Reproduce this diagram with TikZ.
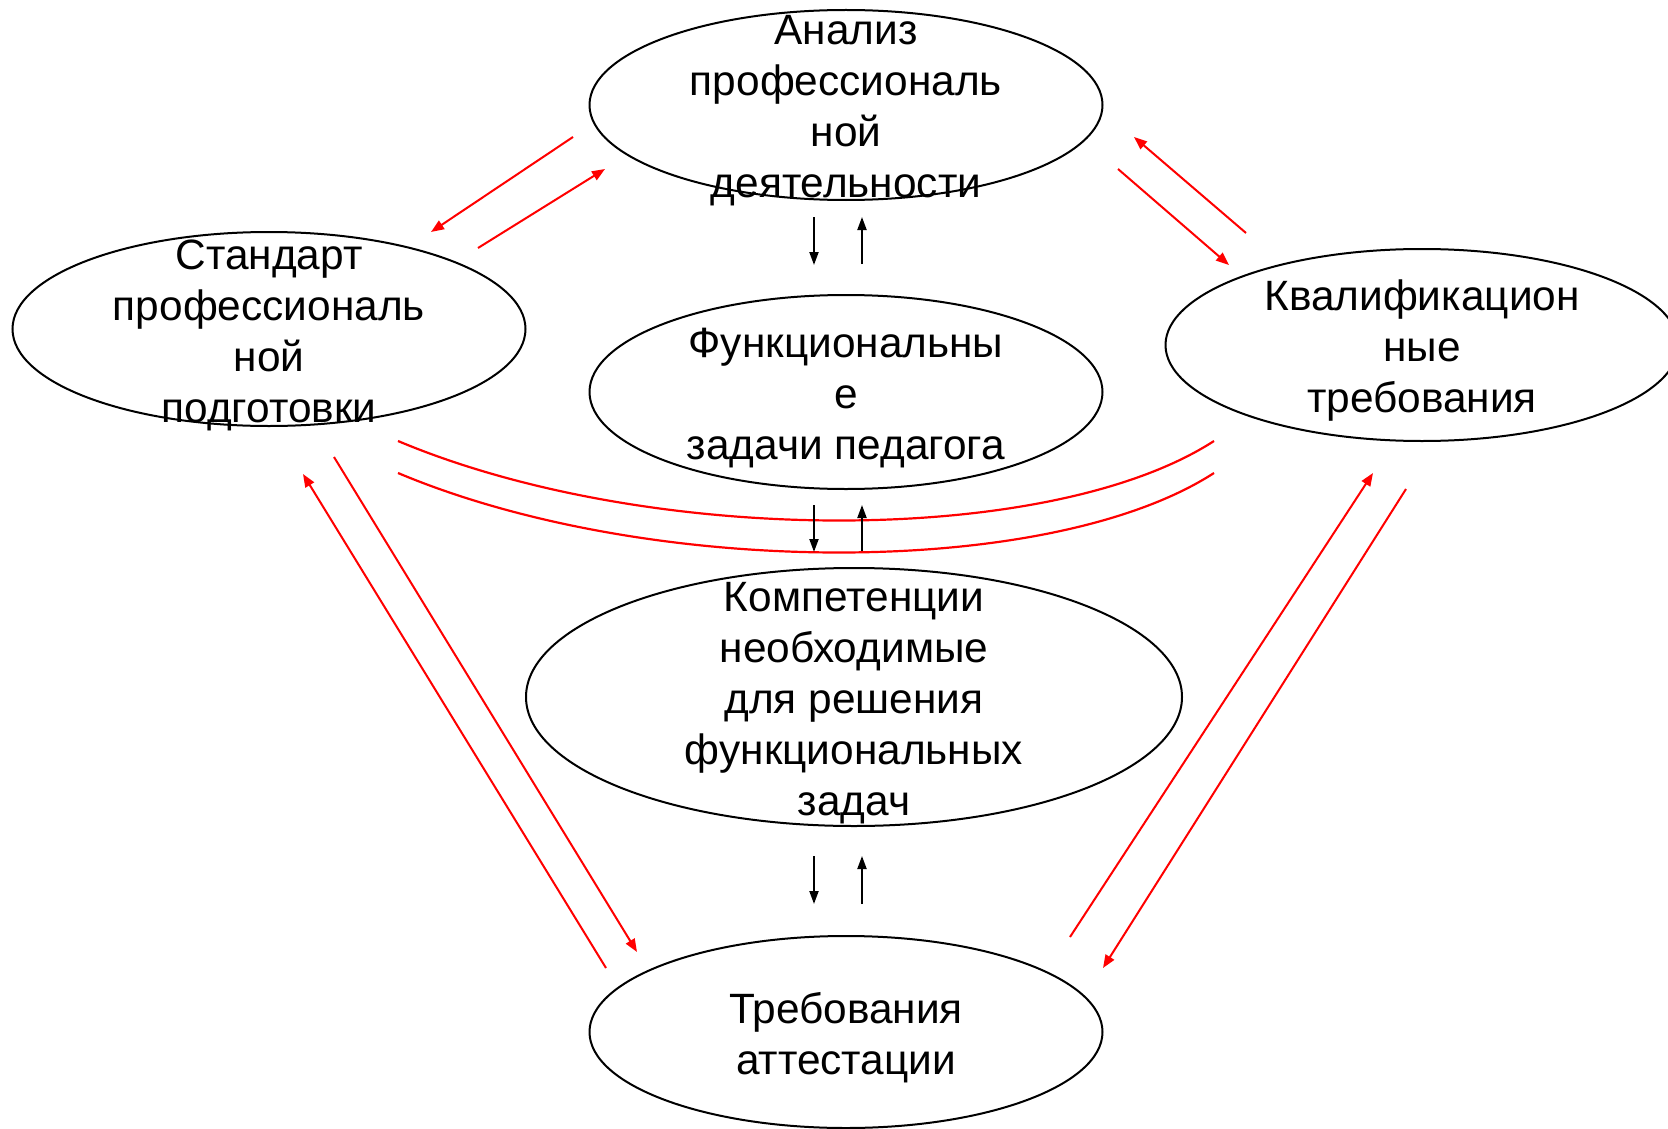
\documentclass[tikz,border=0pt]{standalone}
\usepackage{fontspec}
\setmainfont{Liberation Sans}
\usetikzlibrary{arrows.meta,shapes.geometric}
\begin{document}
\begin{tikzpicture}[x=1pt,y=-1pt,
  oval/.style={draw=black, line width=2pt, ellipse, inner sep=0pt},
  lbl/.style={align=center, font=\fontsize{42.4}{51}\selectfont, inner sep=0pt, yshift=-6pt},
  redarr/.style={draw=red, line width=2pt, -{Triangle[length=13pt,width=10pt]}},
  redline/.style={draw=red, line width=2.2pt},
  blkarr/.style={draw=black, line width=2pt, -{Triangle[length=13pt,width=9pt]}}]
\useasboundingbox (0,0) rectangle (1668,1129);
% ellipses
\node[oval, minimum width=513pt, minimum height=190pt] (an) at (846,105) {};
\node[oval, minimum width=513pt, minimum height=194pt] (st) at (269,329) {};
\node[oval, minimum width=513pt, minimum height=194pt] (fu) at (846,392) {};
\node[oval, minimum width=513pt, minimum height=192pt] (kv) at (1422,345) {};
\node[oval, minimum width=656pt, minimum height=258pt] (ko) at (854,697) {};
\node[oval, minimum width=513pt, minimum height=192pt] (tr) at (846,1032) {};
% labels
\node[lbl] (anT) at (an.center) {Анализ\\профессиональ\\ной\\деятельности};
\node[lbl] (stT) at (st.center) {Стандарт\\профессиональ\\ной\\подготовки};
\node[lbl] (fuT) at (fu.center) {Функциональны\\е\\задачи педагога};
\node[lbl] (kvT) at (kv.center) {Квалификацион\\ные\\требования};
\node[lbl] (koT) at (ko.center) {Компетенции\\необходимые\\для решения\\функциональных\\задач};
\node[lbl] (trT) at (tr.center) {Требования\\аттестации};
% coordinates for red arrows
\coordinate (a1) at (573,137); \coordinate (a2) at (431,232);
\coordinate (b1) at (478,248); \coordinate (b2) at (605,169);
\coordinate (c1) at (1246,233); \coordinate (c2) at (1134,137);
\coordinate (d1) at (1118,169); \coordinate (d2) at (1229,265);
\coordinate (e1) at (606,968); \coordinate (e2) at (303,474);
\coordinate (f1) at (334,457); \coordinate (f2) at (637,952);
\coordinate (g1) at (1070,937); \coordinate (g2) at (1373,473);
\coordinate (h1) at (1406,489); \coordinate (h2) at (1103,968);
\draw[redarr] (a1) -- (a2);
\draw[redarr] (b1) -- (b2);
\draw[redarr] (c1) -- (c2);
\draw[redarr] (d1) -- (d2);
\draw[redarr] (e1) -- (e2);
\draw[redarr] (f1) -- (f2);
\draw[redarr] (g1) -- (g2);
\draw[redarr] (h1) -- (h2);
% red curves
\coordinate (u1) at (398,441); \coordinate (u2) at (1214,441);
\coordinate (l1) at (398,473); \coordinate (l2) at (1214,473);
\draw[redline] (u1) .. controls (650,547) and (1050,547) .. (u2);
\draw[redline] (l1) .. controls (650,579) and (1050,579) .. (l2);
% black arrows
\coordinate (p1) at (814,217); \coordinate (p2) at (814,265);
\coordinate (q1) at (862,264); \coordinate (q2) at (862,217);
\coordinate (r1) at (814,505); \coordinate (r2) at (814,552);
\coordinate (s1) at (862,551); \coordinate (s2) at (862,505);
\coordinate (t1) at (814,856); \coordinate (t2) at (814,904);
\coordinate (v1) at (862,904); \coordinate (v2) at (862,856);
\draw[blkarr] (p1) -- (p2);
\draw[blkarr] (q1) -- (q2);
\draw[blkarr] (r1) -- (r2);
\draw[blkarr] (s1) -- (s2);
\draw[blkarr] (t1) -- (t2);
\draw[blkarr] (v1) -- (v2);
\end{tikzpicture}
\end{document}
